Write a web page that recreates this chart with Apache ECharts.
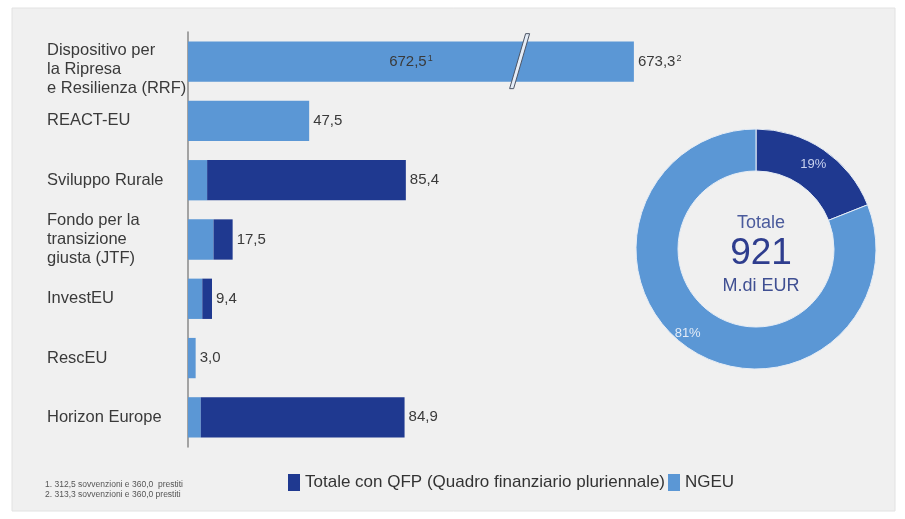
<!DOCTYPE html>
<html>
<head>
<meta charset="utf-8">
<script src="https://cdn.jsdelivr.net/npm/echarts@6/dist/echarts.min.js"></script>
<style>
html,body{margin:0;padding:0;background:#ffffff;}
#chart{width:905px;height:519px;}
</style>
</head>
<body>
<div id="chart"></div>
<script>
// ---- data ----
const categories = [
  'Dispositivo per\nla Ripresa\ne Resilienza (RRF)',
  'REACT-EU',
  'Sviluppo Rurale',
  'Fondo per la\ntransizione\ngiusta (JTF)',
  'InvestEU',
  'RescEU',
  'Horizon Europe'
];
const ngeuValues = [673.3, 47.5, 7.5, 10.0, 5.6, 3.0, 5.0];
const qfpValues  = [0, 0, 77.9, 7.5, 3.8, 0, 79.9];
const totalLabels = ['673,3', '47,5', '85,4', '17,5', '9,4', '3,0', '84,9'];
const totalNotes  = ['2', '', '', '', '', '', ''];
const rrfInnerLabel = '672,5';
const rrfInnerNote = '1';
const seriesNames = ['Totale con QFP (Quadro finanziario pluriennale)', 'NGEU'];
const donutValues = [19, 81];          // QFP, NGEU (percent)
const donutTotal = '921';
const footnotes = ['1. 312,5 sovvenzioni e 360,0  prestiti', '2. 313,3 sovvenzioni e 360,0 prestiti'];
const axisBreak = {start: 130, end: 628.5};

const DARK = '#1f3990';
const LIGHT = '#5b97d5';
const FONT = '"Liberation Sans", Arial, sans-serif';

const chart = echarts.init(document.getElementById('chart'));

const supRich = {
  v: {fontSize: 15, color: '#3a3a3a', fontFamily: FONT},
  s: {fontSize: 9, color: '#3a3a3a', fontFamily: FONT, verticalAlign: 'top', padding: [0, 0, 6, 1]}
};

const bgGraphics = [
  {type: 'rect', z: -10, silent: true,
   shape: {x: 12, y: 8, width: 883, height: 503},
   style: {fill: '#f0f0f0', stroke: '#e2e2e2', lineWidth: 1}},
  {type: 'text', left: 45, top: 480, silent: true,
   style: {text: footnotes.join('\n'), fontSize: 8.5, lineHeight: 10, fill: '#555', fontFamily: FONT}}
];

const labelStyle = {fontSize: 16.5, lineHeight: 19, color: '#3a3a3a', fontFamily: FONT};

const option = {
  backgroundColor: '#ffffff',
  textStyle: {fontFamily: FONT},
  graphic: bgGraphics,
  title: {
    text: '{a|Totale}\n{b|' + donutTotal + '}\n{c|M.di EUR}',
    left: 756, top: 205, textAlign: 'center',
    textStyle: {
      fontWeight: 'normal',
      rich: {
        a: {fontSize: 18, color: '#4b5b9c', fontFamily: FONT, lineHeight: 26, fontWeight: 'normal'},
        b: {fontSize: 37, color: '#2e3d8e', fontFamily: FONT, lineHeight: 36, fontWeight: 'normal'},
        c: {fontSize: 18, color: '#3f4f92', fontFamily: FONT, lineHeight: 28, fontWeight: 'normal'}
      }
    }
  },
  legend: {
    data: [seriesNames[0], seriesNames[1]],
    left: 283, top: 469,
    icon: 'rect', itemWidth: 12, itemHeight: 17, itemGap: 3,
    textStyle: {fontSize: 17, color: '#333', fontFamily: FONT},
    selectedMode: false
  },
  grid: {left: 188, width: 514, top: 32, height: 415, containLabel: false, outerBoundsMode: 'none'},
  xAxis: {
    type: 'value', min: 0, max: 700,
    breaks: [{start: axisBreak.start, end: axisBreak.end, gap: 0}],
    breakArea: {show: false},
    axisLine: {show: false}, axisTick: {show: false},
    axisLabel: {show: false}, splitLine: {show: false}
  },
  yAxis: {
    type: 'category',
    data: categories,
    inverse: true,
    axisLine: {show: true, lineStyle: {color: '#8a8a8a', width: 1.5}},
    axisTick: {show: false},
    axisLabel: Object.assign({
      align: 'left', margin: 141,
      formatter: (val, idx) => idx === 0
        ? '{gap|}\n' + val.split('\n').map(t => '{t|' + t + '}').join('\n')
        : val,
      rich: {
        gap: {lineHeight: 16, fontSize: 1},
        t: Object.assign({}, labelStyle)
      }
    }, labelStyle)
  },
  series: [
    {
      name: seriesNames[1], type: 'bar', stack: 'tot',
      barCategoryGap: '32%',
      itemStyle: {color: LIGHT},
      data: ngeuValues.map((v, i) => i === 0 ? {
        value: v,
        label: {show: true, position: 'inside',
                formatter: '{v|' + rrfInnerLabel + '}{s|' + rrfInnerNote + '}',
                rich: supRich}
      } : v),
      label: {show: false},
      z: 2
    },
    {
      name: seriesNames[0], type: 'bar', stack: 'tot',
      itemStyle: {color: DARK},
      data: qfpValues,
      label: {
        show: true, position: 'right', distance: 4,
        formatter: p => '{v|' + totalLabels[p.dataIndex] + '}' + (totalNotes[p.dataIndex] ? '{s|' + totalNotes[p.dataIndex] + '}' : ''),
        rich: supRich
      },
      z: 2
    },
    {
      name: 'donut', type: 'pie',
      center: [756, 249], radius: [78, 120],
      startAngle: 90, clockwise: true,
      avoidLabelOverlap: false,
      itemStyle: {borderColor: '#e6edf6', borderWidth: 1},
      label: {show: true, position: 'inside', formatter: '{c}%', fontSize: 13, fontFamily: FONT},
      labelLine: {show: false},
      emphasis: {disabled: true},
      data: [
        {name: seriesNames[0], value: donutValues[0], itemStyle: {color: DARK}, label: {color: '#c8d2ef'}},
        {name: seriesNames[1], value: donutValues[1], itemStyle: {color: LIGHT}, label: {color: '#e2ebf7', padding: [10, 22, 0, 0]}}
      ]
    }
  ]
};

chart.setOption(option);

// break marker on the RRF bar, positioned through the axis scales
const bx = chart.convertToPixel({xAxisIndex: 0}, axisBreak.start);
const by = chart.convertToPixel({yAxisIndex: 0}, 0);
if (isFinite(bx) && isFinite(by)) {
  chart.setOption({
    graphic: bgGraphics.concat([
      {type: 'polygon', z: 100, silent: true,
       shape: {points: [[bx - 10, by + 27], [bx + 6, by - 28], [bx + 10, by - 28], [bx - 6, by + 27]]},
       style: {fill: '#e4ecf6', stroke: '#4d5566', lineWidth: 1}}
    ])
  });
}
</script>
</body>
</html>
